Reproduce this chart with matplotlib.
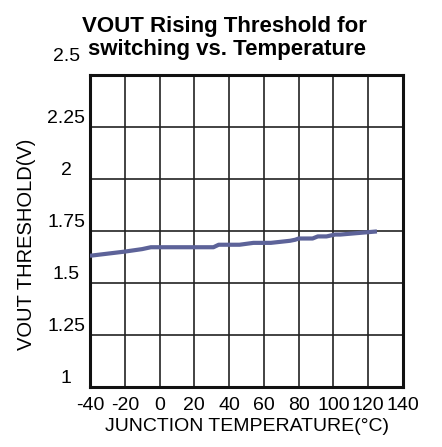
import matplotlib.pyplot as plt
import matplotlib.transforms as mtransforms

# junction temperature (C) vs rising threshold (V)
temp = [-40, -20, -10, -5, 0, 31, 34, 46, 54, 64, 75, 78, 80, 88, 91, 96, 101, 104, 125]
vth = [1.631, 1.651, 1.663, 1.672, 1.672, 1.672, 1.684, 1.684, 1.693, 1.693,
       1.703, 1.708, 1.714, 1.714, 1.724, 1.724, 1.733, 1.733, 1.748]

x_ticks = [-40, -20, 0, 20, 40, 60, 80, 100, 120, 140]
x_labels = ["-40", "-20", "0", "20", "40", "60", "80", "100", "120", "140"]
y_ticks = [1, 1.25, 1.5, 1.75, 2, 2.25, 2.5]
y_labels = ["1", "1.25", "1.5", "1.75", "2", "2.25", "2.5"]

plt.rcParams["font.family"] = ["Liberation Sans", "DejaVu Sans"]

fig = plt.figure(figsize=(4.42, 4.47), dpi=100)
ax = fig.add_axes([0.2036, 0.1342, 0.7082, 0.698])

ax.plot(temp, vth, color="#5d6399", linewidth=3, solid_capstyle="butt", zorder=3)

ax.set_xlim(-40, 140)
ax.set_ylim(1, 2.5)
ax.set_xticks(x_ticks)
ax.set_xticklabels(x_labels)
ax.set_yticks(y_ticks)
ax.set_yticklabels(y_labels)
ax.grid(True, color="#222222", linewidth=1.2)
ax.tick_params(length=0, labelsize=14)
ax.tick_params(axis="x", pad=7)
ax.tick_params(axis="y", pad=17)
for lab in ax.get_yticklabels():
    lab.set_horizontalalignment("center")
    lab.set_verticalalignment("bottom")
# the top label sits a bit higher in the original
top = ax.get_yticklabels()[-1]
top.set_transform(top.get_transform() + mtransforms.ScaledTranslation(0, 10 / 100, fig.dpi_scale_trans))

for sp in ax.spines.values():
    sp.set_linewidth(2.2)
    sp.set_color("#111111")

ax.set_xlabel("JUNCTION TEMPERATURE(°C)", fontsize=14, labelpad=3)
fig.text(27 / 442, 1 - 244 / 447, "VOUT THRESHOLD(V)", rotation=90,
         ha="center", va="center", fontsize=14.5)

fig.text(224 / 442, 1 - 32 / 447, "VOUT Rising Threshold for",
         ha="center", va="baseline", fontsize=16, fontweight="bold")
fig.text(227 / 442, 1 - 55 / 447, "switching vs. Temperature",
         ha="center", va="baseline", fontsize=16, fontweight="bold")

fig.savefig("out.png", dpi=100)
